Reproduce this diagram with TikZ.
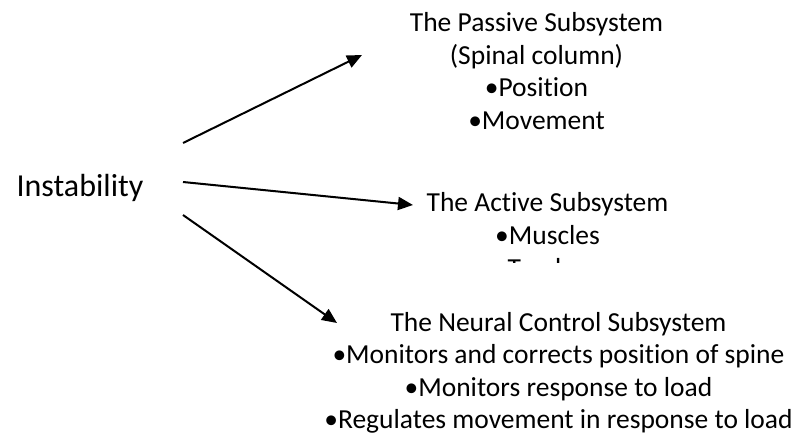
\documentclass[tikz,border=0pt]{standalone}
\usepackage{fontspec}
\setmainfont[Ligatures=NoCommon]{Carlito}
\usetikzlibrary{arrows.meta}
\begin{document}
\begin{tikzpicture}[x=1pt,y=1pt,
  lbl/.style={inner sep=0pt,anchor=base,font=\fontsize{27.5}{33}\selectfont},
  big/.style={inner sep=0pt,anchor=base,font=\fontsize{32}{38}\selectfont},
  conn/.style={line width=2pt,-{Triangle[length=15pt,width=13pt]}}]
\useasboundingbox (0,0) rectangle (794,436);
\node[big] (inst) at (80,239) {Instability};
% passive
\node[lbl] (pas1) at (536.5,404) {The Passive Subsystem};
\node[lbl] (pas2) at (536.5,371) {(Spinal column)};
\node[lbl] (pas3) at (536.5,339) {\textbullet Position};
\node[lbl] (pas4) at (536.5,306) {\textbullet Movement};
% active (third line clipped)
\begin{scope}
\clip (300,173.5) rectangle (794,300);
\node[lbl] (act1) at (547.5,224) {The Active Subsystem};
\node[lbl] (act2) at (547.5,191) {\textbullet Muscles};
\node[lbl] (act3) at (547.5,158) {\textbullet Tendons};
\end{scope}
% neural
\node[lbl] (neu1) at (558.5,104) {The Neural Control Subsystem};
\node[lbl] (neu2) at (558.5,72) {\textbullet Monitors and corrects position of spine};
\node[lbl] (neu3) at (558.5,40) {\textbullet Monitors response to load};
\node[lbl] (neu4) at (558.5,8) {\textbullet Regulates movement in response to load};
\coordinate (s1) at (183,293);
\coordinate (e1) at (362,381);
\coordinate (s2) at (183,254);
\coordinate (e2) at (413,231);
\coordinate (s3) at (183,221);
\coordinate (e3) at (337,113);
\draw[conn] (s1) -- (e1);
\draw[conn] (s2) -- (e2);
\draw[conn] (s3) -- (e3);
\end{tikzpicture}
\end{document}
